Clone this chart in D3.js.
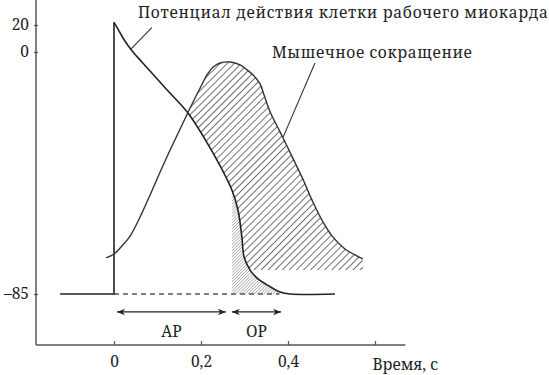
<!DOCTYPE html>
<html><head><meta charset="utf-8">
<script src="https://cdn.jsdelivr.net/npm/d3@7"></script>
<style>
html,body{margin:0;padding:0;background:#fff;}
svg{display:block;}
</style></head><body>
<svg id="chart" width="549" height="375"></svg>
<script>
// ---- data ----
// Action potential of a working myocardial cell: time (s), membrane potential (mV)
const apTime  = [-0.124, 0, 0, 0.0092, 0.0207, 0.0322, 0.046, 0.064, 0.087, 0.120, 0.170, 0.209, 0.244, 0.271, 0.285, 0.294, 0.299, 0.313, 0.331, 0.352, 0.382, 0.405, 0.508];
const apValue = [-85, -85, 22, 17.0, 10.4, 4.8, -0.4, -3.5, -7.4, -13.0, -21.4, -30.6, -40.0, -48.5, -55.5, -65.0, -72.0, -76.6, -79.7, -81.8, -84.3, -85, -85];
// Muscle contraction: time (s), relative force (% of peak)
const mcTime  = [-0.018, 0, 0.018, 0.037, 0.060, 0.083, 0.106, 0.129, 0.152, 0.175, 0.198, 0.214, 0.228, 0.244, 0.267, 0.290, 0.306, 0.322, 0.336, 0.345, 0.359, 0.382, 0.411, 0.434, 0.455, 0.478, 0.503, 0.531, 0.559, 0.572];
const mcValue = [5.8, 7.7, 11.5, 16.3, 25.5, 36.1, 47.1, 57.7, 67.8, 77.9, 87.5, 93.8, 97.6, 99.5, 100, 98.6, 96.2, 93.3, 89.4, 84.1, 76.0, 66.3, 53.8, 43.8, 33.7, 24.0, 15.9, 10.1, 6.7, 5.3];
// axes
const xTicks = [0, 0.2, 0.4, 0.6];
const xTickLabels = ["0", "0,2", "0,4", ""];
const xTitle = "Время, с";
const yTicks = [-85, 0, 20];
const yTickLabels = ["\u201385", "0", "20"];
// refractory periods (s)
const arSpan = [0.007, 0.257];
const orSpan = [0.271, 0.384];
const arLabel = "АР";
const orLabel = "ОР";
const restingLevel = -85;
const apTitle = "Потенциал действия клетки рабочего миокарда";
const mcTitle = "Мышечное сокращение";

const ap = apTime.map((t, i) => ({t, v: apValue[i]}));
const mc = mcTime.map((t, i) => ({t, v: mcValue[i]}));

const FONT = '"Noto Serif","Liberation Serif","Times New Roman"';

// ---- scales ----
const W = 549, H = 375;
const x = d3.scaleLinear().domain([0, 0.6]).range([114, 375]);
const y = d3.scaleLinear().domain([-85, 0, 20]).range([294, 52, 25]);   // schematic, non-uniform
const f = d3.scaleLinear().domain([0, 100]).range([270, 62]);
const axisY = 345, axisX = 36;

const svg = d3.select("#chart");
const defs = svg.append("defs");

// hatch patterns
const p1 = defs.append("pattern").attr("id", "hatch").attr("patternUnits", "userSpaceOnUse")
  .attr("width", 5).attr("height", 5).attr("patternTransform", "rotate(45)");
p1.append("line").attr("x1", 0).attr("y1", 0).attr("x2", 0).attr("y2", 5)
  .attr("stroke", "#333").attr("stroke-width", 1.4);
const p2 = defs.append("pattern").attr("id", "dense").attr("patternUnits", "userSpaceOnUse")
  .attr("width", 2.2).attr("height", 2.2).attr("patternTransform", "rotate(45)");
p2.append("line").attr("x1", 0).attr("y1", 0).attr("x2", 0).attr("y2", 2.2)
  .attr("stroke", "#707070").attr("stroke-width", 0.9);

const apAfterPeak = ap.slice(2);
const apExt = apAfterPeak.concat([{t: 0.7, v: restingLevel}]);
// clip: above AP curve
defs.append("clipPath").attr("id", "aboveAP").append("path")
  .attr("d", d3.area().x(d => x(d.t)).y0(0).y1(d => y(d.v)).curve(d3.curveCatmullRom)(apExt));
// clip: under contraction curve
defs.append("clipPath").attr("id", "underMC").append("path")
  .attr("d", d3.area().x(d => x(d.t)).y0(f(0)).y1(d => f(d.v)).curve(d3.curveCatmullRom)(mc));

// main hatched area
svg.append("g").attr("clip-path", "url(#aboveAP)")
  .append("g").attr("clip-path", "url(#underMC)")
  .append("rect").attr("x", 0).attr("y", 0).attr("width", W).attr("height", H)
  .attr("fill", "url(#hatch)");

// dense hatched area (relative refractory)
const apRel = ap.filter(d => d.t >= orSpan[0] && d.t <= 0.41);
svg.append("path")
  .attr("d", d3.area().x(d => x(d.t)).y0(y(restingLevel)).y1(d => y(d.v)).curve(d3.curveCatmullRom)(apRel))
  .attr("fill", "url(#dense)");

// dashed resting level
svg.append("line")
  .attr("x1", x(0)).attr("x2", x(0.38)).attr("y1", y(restingLevel)).attr("y2", y(restingLevel))
  .attr("stroke", "#555").attr("stroke-width", 1.3).attr("stroke-dasharray", "5,4");

// AP line
svg.append("path").attr("d", d3.line().x(d => x(d.t)).y(d => y(d.v))(ap.slice(0, 3)))
  .attr("fill", "none").attr("stroke", "#222").attr("stroke-width", 1.6);
svg.append("path").attr("d", d3.line().x(d => x(d.t)).y(d => y(d.v)).curve(d3.curveCatmullRom)(apAfterPeak))
  .attr("fill", "none").attr("stroke", "#222").attr("stroke-width", 1.6);

// contraction line
svg.append("path").attr("d", d3.line().x(d => x(d.t)).y(d => f(d.v)).curve(d3.curveCatmullRom)(mc))
  .attr("fill", "none").attr("stroke", "#333").attr("stroke-width", 1.4);

// ---- axes ----
const xAxisExtent = [-0.179, 0.67];
svg.append("line").attr("x1", x(xAxisExtent[0])).attr("x2", x(xAxisExtent[1]))
  .attr("y1", axisY).attr("y2", axisY).attr("stroke", "#555").attr("stroke-width", 1.5);
svg.append("line").attr("x1", axisX).attr("x2", axisX)
  .attr("y1", axisY).attr("y2", 0).attr("stroke", "#555").attr("stroke-width", 1.5);

const gx = svg.append("g").attr("transform", `translate(0,${axisY})`)
  .call(d3.axisBottom(x).tickValues(xTicks).tickSize(-4).tickPadding(11)
    .tickFormat((d, i) => xTickLabels[i]));
gx.select(".domain").remove();
gx.selectAll(".tick line").attr("stroke", "#555").attr("stroke-width", 1.2);
gx.selectAll(".tick text").attr("font-size", 15.5).style("font-family", FONT).attr("fill", "#222");

const gy = svg.append("g").attr("transform", `translate(${axisX + 2},0)`)
  .call(d3.axisLeft(y).tickValues(yTicks).tickSize(4).tickPadding(5)
    .tickFormat((d, i) => yTickLabels[i]));
gy.select(".domain").remove();
gy.selectAll(".tick line").attr("stroke", "#555").attr("stroke-width", 1.2);
gy.selectAll(".tick text").attr("font-size", 15.5).style("font-family", FONT).attr("fill", "#222");

svg.append("text").attr("x", x(0.594)).attr("y", 370).attr("font-size", 15.5)
  .style("font-family", FONT).attr("fill", "#222").text(xTitle);

// ---- refractory arrows ----
defs.append("marker").attr("id", "arr").attr("viewBox", "0 -5 10 10")
  .attr("refX", 10).attr("refY", 0).attr("markerWidth", 10).attr("markerHeight", 8)
  .attr("markerUnits", "userSpaceOnUse").attr("orient", "auto-start-reverse")
  .append("path").attr("d", "M0,-4L10,0L0,4L3,0Z").attr("fill", "#222");

const arrowV = -91.3, labelV = -98.5;
[[arSpan, arLabel], [orSpan, orLabel]].forEach(([s, lab]) => {
  svg.append("line").attr("x1", x(s[0])).attr("x2", x(s[1]))
    .attr("y1", y(arrowV)).attr("y2", y(arrowV))
    .attr("stroke", "#222").attr("stroke-width", 1.3)
    .attr("marker-start", "url(#arr)").attr("marker-end", "url(#arr)");
  svg.append("text").attr("x", x((s[0] + s[1]) / 2)).attr("y", y(labelV) + 5)
    .attr("text-anchor", "middle").attr("font-size", 15.5)
    .style("font-family", FONT).attr("fill", "#222").text(lab);
});

// ---- annotations ----
svg.append("text").attr("x", x(0.055)).attr("y", 18).attr("font-size", 15.5)
  .style("font-family", FONT).attr("fill", "#222")
  .attr("textLength", 410).attr("lengthAdjust", "spacing").text(apTitle);
svg.append("line").attr("x1", x(0.087)).attr("y1", y(18)).attr("x2", x(0.037)).attr("y2", y(1.5))
  .attr("stroke", "#333").attr("stroke-width", 1.1);
svg.append("text").attr("x", x(0.363)).attr("y", f(101.9)).attr("font-size", 15.5)
  .style("font-family", FONT).attr("fill", "#222")
  .attr("textLength", 200).attr("lengthAdjust", "spacing").text(mcTitle);
svg.append("line").attr("x1", x(0.462)).attr("y1", f(99.5)).attr("x2", x(0.389)).attr("y2", f(64))
  .attr("stroke", "#333").attr("stroke-width", 1.1);
</script>
</body></html>
